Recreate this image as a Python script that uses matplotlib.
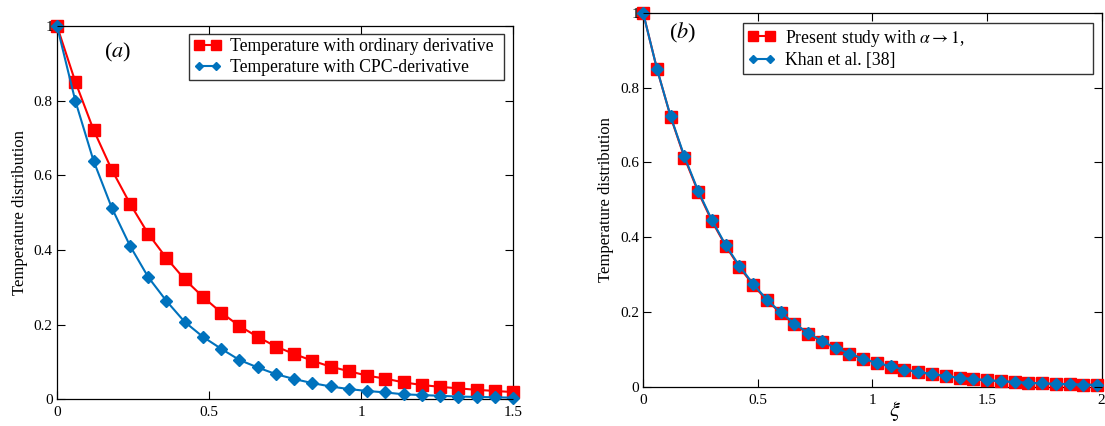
import matplotlib
matplotlib.use("Agg")
import matplotlib.pyplot as plt

plt.rcParams['font.family'] = ['Liberation Serif', 'DejaVu Serif']
plt.rcParams['mathtext.fontset'] = 'stix'

# panel (a): x grid and temperature values
xi_a = [0, 0.06, 0.12, 0.18, 0.24, 0.30, 0.36, 0.42, 0.48, 0.54, 0.60, 0.66, 0.72,
        0.78, 0.84, 0.90, 0.96, 1.02, 1.08, 1.14, 1.20, 1.26, 1.32, 1.38, 1.44, 1.50]
temp_ordinary = [1.0, 0.851, 0.722, 0.615, 0.524, 0.443, 0.378, 0.321, 0.274, 0.232,
                 0.196, 0.167, 0.141, 0.121, 0.103, 0.087, 0.075, 0.063, 0.055, 0.045,
                 0.038, 0.033, 0.029, 0.025, 0.022, 0.019]
temp_cpc = [1.0, 0.800, 0.639, 0.513, 0.411, 0.327, 0.263, 0.207, 0.167, 0.135,
            0.105, 0.085, 0.067, 0.054, 0.043, 0.034, 0.027, 0.022, 0.018, 0.013,
            0.011, 0.009, 0.007, 0.006, 0.005, 0.004]

# panel (b)
xi_b = [0, 0.06, 0.12, 0.18, 0.24, 0.30, 0.36, 0.42, 0.48, 0.54, 0.60, 0.66, 0.72,
        0.78, 0.84, 0.90, 0.96, 1.02, 1.08, 1.14, 1.20, 1.26, 1.32, 1.38, 1.44, 1.50,
        1.56, 1.62, 1.68, 1.74, 1.80, 1.86, 1.92, 1.98]
temp_present = [1.0, 0.851, 0.722, 0.613, 0.521, 0.443, 0.377, 0.320, 0.272, 0.231,
                0.197, 0.167, 0.142, 0.121, 0.103, 0.087, 0.074, 0.063, 0.054, 0.046,
                0.039, 0.033, 0.028, 0.024, 0.020, 0.017, 0.015, 0.013, 0.011, 0.009,
                0.008, 0.007, 0.006, 0.005]
temp_khan = [1.0, 0.851, 0.723, 0.616, 0.524, 0.446, 0.379, 0.323, 0.275, 0.233,
             0.199, 0.169, 0.144, 0.122, 0.104, 0.089, 0.075, 0.064, 0.055, 0.046,
             0.040, 0.034, 0.029, 0.024, 0.021, 0.018, 0.015, 0.013, 0.011, 0.009,
             0.008, 0.007, 0.006, 0.005]

red = '#ff0000'
blue = '#0072bd'

fig = plt.figure(figsize=(11.05, 4.26), dpi=100)
ax1 = fig.add_axes([0.0516, 0.063, 0.4127, 0.876])
ax2 = fig.add_axes([0.582, 0.092, 0.415, 0.878])

def style(ax, xmax, xticks, xlabels):
    ax.set_xlim(0, xmax)
    ax.set_ylim(0, 1)
    ax.set_xticks(xticks)
    ax.set_xticklabels(xlabels)
    ax.set_yticks([0, 0.2, 0.4, 0.6, 0.8, 1])
    ax.set_yticklabels(['0', '0.2', '0.4', '0.6', '0.8', '1'])
    ax.tick_params(direction='in', top=True, right=True, length=6, width=0.8,
                   labelsize=11)
    ax.tick_params(axis='x', pad=5)
    ax.tick_params(axis='y', pad=3)
    ax.yaxis.set_zorder(5)
    for s in ax.spines.values():
        s.set_linewidth(0.9)
    ax.set_ylabel('Temperature distribution', fontsize=12, labelpad=4)

def legend(ax, box):
    leg = ax.legend(loc='upper left', bbox_to_anchor=box, mode='expand', borderaxespad=0,
                    numpoints=2, fancybox=False, fontsize=12.7, handlelength=1.6,
                    handletextpad=0.5, borderpad=0.25, labelspacing=0.2, markerscale=0.75)
    leg.get_frame().set_edgecolor('black')
    leg.get_frame().set_linewidth(1.0)
    return leg

ax1.plot(xi_a, temp_ordinary, color=red, lw=1.5, marker='s', ms=9,
         label='Temperature with ordinary derivative', clip_on=False, zorder=3)
ax1.plot(xi_a, temp_cpc, color=blue, lw=1.5, marker='D', ms=6,
         label='Temperature with CPC-derivative', clip_on=False, zorder=4)
style(ax1, 1.5, [0, 0.5, 1, 1.5], ['0', '0.5', '1', '1.5'])
ax1.text(0.20, 0.928, r'($\it{a}$)', fontsize=16, ha='center', va='center')
legend(ax1, (0.289, 0.845, 0.691, 0.134))

ax2.plot(xi_b, temp_present, color=red, lw=1.5, marker='s', ms=9,
         label=r'Present study with $\alpha \rightarrow 1$,', clip_on=False, zorder=3)
ax2.plot(xi_b, temp_khan, color=blue, lw=1.5, marker='D', ms=6,
         label='Khan et al. [38]', clip_on=False, zorder=4)
style(ax2, 2, [0, 0.5, 1, 1.5, 2], ['0', '0.5', '1', '1.5', '2'])
ax2.set_xlabel(r'$\xi$', fontsize=16)
ax2.xaxis.set_label_coords(0.549, -0.032)
ax2.text(0.17, 0.946, r'($\it{b}$)', fontsize=16, ha='center', va='center')
legend(ax2, (0.218, 0.833, 0.762, 0.139))

fig.savefig('out.png', dpi=100)
